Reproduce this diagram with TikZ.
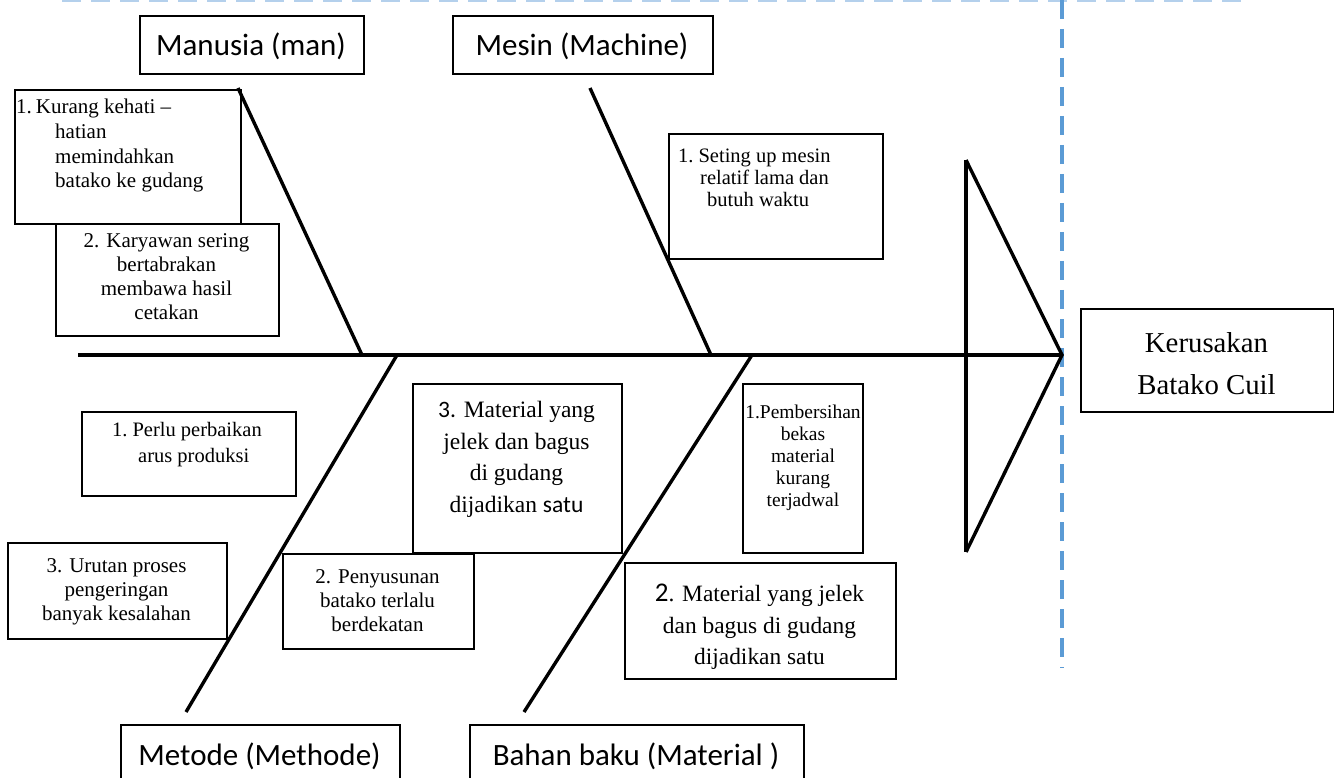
\documentclass[tikz,border=0pt]{standalone}
\usepackage{fontspec}
\setmainfont{Liberation Serif}
\newfontfamily\calfont{Carlito}
\definecolor{guideblue}{HTML}{5B9BD5}
\definecolor{guidelight}{HTML}{B4D0EC}
\begin{document}
\begin{tikzpicture}[x=1pt,y=-1pt,
  box/.style={draw=black, line width=1.8pt, inner sep=0pt, anchor=north west},
  bone/.style={draw=black, line width=3.4pt},
  guide/.style={draw=guideblue, line width=4pt, dash pattern=on 19pt off 10pt},
  head/.style={inner sep=0pt, anchor=base, font=\calfont\fontsize{31}{36}\selectfont},
  cause/.style={inner sep=0pt, anchor=north, align=center, font=\fontsize{21}{24}\selectfont},
  causel/.style={inner sep=0pt, anchor=north west, align=left, font=\fontsize{21}{24}\selectfont}]
\useasboundingbox (0,0) rectangle (1334,778);

% guide lines of the page frame
\draw[guide, draw=guidelight] (62,0) -- (1245,0);
\draw[guide] (1062,0) -- (1062,668);

% category boxes
\node[box, minimum width=224pt, minimum height=58pt] (man) at (139,15) {};
\node[head] (manT) at (251,56) {Manusia (man)};
\node[box, minimum width=260pt, minimum height=58pt] (mac) at (452,15) {};
\node[head] (macT) at (582,56) {Mesin (Machine)};
\node[box, minimum width=279pt, minimum height=70pt] (met) at (120,724) {};
\node[head] (metT) at (259.5,765) {Metode (Methode)};
\node[box, minimum width=334pt, minimum height=70pt] (mat) at (469,724) {};
\node[head] (matT) at (636,765) {Bahan baku (Material )};

% effect box
\node[box, minimum width=253pt, minimum height=103pt] (eff) at (1080,308) {};
\node[cause, font=\fontsize{28.8}{42}\selectfont] (effT) at (1206.5,332) {Kerusakan\\Batako Cuil};

% skeleton
\coordinate (tail) at (78,355);
\coordinate (apex) at (1062,355);
\coordinate (hTop) at (966,160);
\coordinate (hBot) at (966,552);
\coordinate (manTop) at (238,88);
\coordinate (manFoot) at (362,355);
\coordinate (macTop) at (590,88);
\coordinate (macFoot) at (711,355);
\coordinate (metFoot) at (397,355);
\coordinate (metEnd) at (186,712);
\coordinate (matFoot) at (752,355);
\coordinate (matEnd) at (524,712);

\draw[bone] (tail) -- (apex);
\draw[bone, line join=miter] (hTop) -- (hBot);
\draw[bone, line join=miter] (hTop) -- (apex) -- (hBot);
\draw[bone] (manTop) -- (manFoot);
\draw[bone] (macTop) -- (macFoot);
\draw[bone] (metFoot) -- (metEnd);
\draw[bone] (matFoot) -- (matEnd);

% man causes
\node[box, minimum width=226pt, minimum height=134pt] (c1) at (14,89) {};
\node[causel, font=\fontsize{21}{24.7}\selectfont] (c1T) at (16,99) {1.\hspace*{4pt}Kurang kehati --\\\hspace*{39pt}hatian\\\hspace*{39pt}memindahkan\\\hspace*{39pt}batako ke gudang};
\node[box, minimum width=223pt, minimum height=112pt] (c2) at (55,223) {};
\node[cause] (c2T) at (166.5,233) {2. Karyawan sering\\bertabrakan\\membawa hasil\\cetakan};

% machine cause
\node[box, minimum width=214pt, minimum height=125pt] (c3) at (668,133) {};
\node[causel, font=\fontsize{20.5}{21.7}\selectfont] (c3T) at (678,149) {1.\hspace*{5pt}Seting up mesin\\\hspace*{22pt}relatif lama dan\\\hspace*{29pt}butuh waktu};

% method causes
\node[box, minimum width=214pt, minimum height=84pt] (c4) at (81,411) {};
\node[causel, font=\fontsize{20.5}{26}\selectfont] (c4T) at (112,422) {1.\hspace*{5pt}Perlu perbaikan\\\hspace*{26pt}arus produksi};
\node[box, minimum width=219pt, minimum height=96pt] (c5) at (7,542) {};
\node[cause] (c5T) at (116.5,558) {3. Urutan proses\\pengeringan\\banyak kesalahan};
\node[box, minimum width=191pt, minimum height=95pt] (c6) at (282,553) {};
\node[cause] (c6T) at (377.5,569) {2. Penyusunan\\batako terlalu\\berdekatan};

% material causes
\node[box, minimum width=209pt, minimum height=169pt] (c7) at (412,383) {};
\node[cause, font=\fontsize{23.5}{31.5}\selectfont] (c7T) at (516.5,401) {{\calfont 3.} Material yang\\jelek dan bagus\\di gudang\\dijadikan {\calfont satu}};
\node[box, minimum width=120pt, minimum height=169pt] (c8) at (742,383) {};
\node[cause, font=\fontsize{19.5}{22}\selectfont] (c8T) at (803,405) {1.Pembersihan\\bekas\\material\\kurang\\terjadwal};
\node[box, minimum width=271pt, minimum height=116pt] (c9) at (624,562) {};
\node[cause, font=\fontsize{23.4}{31.5}\selectfont] (c9T) at (759.5,584) {{\calfont\fontsize{27}{31.5}\selectfont 2}. Material yang jelek\\dan bagus di gudang\\dijadikan satu};
\end{tikzpicture}
\end{document}
